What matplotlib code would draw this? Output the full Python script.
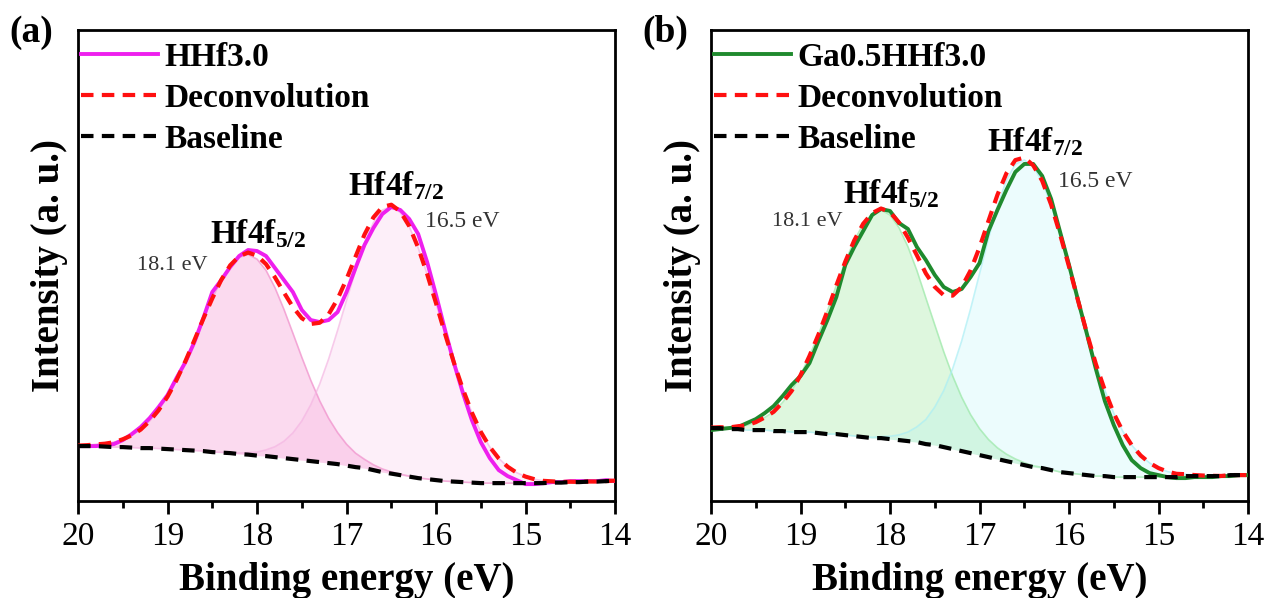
import numpy as np
import matplotlib.pyplot as plt

plt.rcParams['font.family'] = ['Liberation Serif', 'DejaVu Serif']
plt.rcParams['mathtext.fontset'] = 'custom'
plt.rcParams['mathtext.rm'] = 'Liberation Serif'
plt.rcParams['mathtext.bf'] = 'Liberation Serif:bold'

# binding energy grid (eV), shared by both spectra
energy = np.round(np.arange(20.0, 13.95, -0.1), 1)

# Hf 4f region, HHf3.0
hhf_counts = [51, 51, 51, 52, 53, 57, 63, 70, 79, 90,
              102, 119, 135, 155, 179, 205, 217, 230, 241, 247,
              246, 241, 229, 217, 205, 187, 177, 175, 177, 185,
              205, 229, 252, 269, 283, 290, 287, 278, 263, 235,
              202, 167, 134, 104, 77, 55, 39, 27, 21, 17,
              13, 13, 14, 15, 15, 16, 16, 16, 16, 17, 16]
hhf_base = [51, 51, 51, 50.5, 50, 50, 49.5, 49, 49, 48.5,
            48, 47.5, 47, 46.5, 46, 45, 44.5, 44, 43, 42.5,
            41.5, 41, 40, 39, 38, 37, 36, 35, 34, 33,
            31.5, 30, 29, 27, 25, 23.5, 22, 20.5, 19, 18,
            17, 16, 15.5, 15, 14.5, 14, 14, 14, 14, 14,
            14, 14, 14, 14.5, 14.5, 15, 15, 15.5, 15.5, 16, 16.5]

# Hf 4f region, Ga0.5HHf3.0
ga_counts = [67, 68, 69, 70, 74, 78, 84, 91, 101, 112,
             121, 134, 156, 177, 200, 232, 250, 266, 282, 288,
             286, 274, 268, 250, 237, 222, 210, 205, 208, 220,
             234, 266, 287, 307, 325, 333, 333, 321, 298, 265,
             232, 197, 163, 128, 96, 72, 52, 37, 29, 24,
             22, 20, 19, 19, 20, 20, 20, 21, 21, 22, 22]
ga_base = [69, 69, 68, 68, 67, 67, 67, 66, 66, 65,
           65, 65, 64, 63, 63, 62, 61, 60, 59, 59,
           58, 57, 56, 55, 53, 52, 50, 48, 46, 44,
           42, 40, 38, 36, 34, 32, 30, 29, 27, 25,
           24, 23, 22, 21, 21, 20, 20, 20, 20, 20,
           20, 20, 20, 21, 21, 21, 21, 21, 22, 22, 22]

# fitted doublet: centre, height, sigma (high-BE side), sigma (low-BE side)
centres = [18.1, 16.5]
hhf_peaks = [(200, 0.55, 0.52), (267, 0.51, 0.55)]
ga_peaks = [(228, 0.54, 0.53), (305, 0.49, 0.565)]


def peak(x, c, h, s_hi, s_lo):
    s = np.where(x > c, s_hi, s_lo)
    return h * np.exp(-(x - c) ** 2 / (2 * s ** 2))


def panel(ax, counts, base, peaks, name, color, fills, edges, lab_pos):
    base = np.array(base)
    comps = [peak(energy, c, *p) for c, p in zip(centres, peaks)]
    for g, fc, ec, a in zip(comps, fills, edges, [0.25, 0.16]):
        ax.fill_between(energy, base, base + g, color=fc, alpha=a, lw=0, zorder=1)
        ax.plot(energy, base + g, color=ec, lw=1.2, alpha=0.7, zorder=2)
    fit = base + comps[0] + comps[1]
    ax.plot(energy, counts, color=color, lw=2.8, label=name, zorder=3)
    ax.plot(energy, fit, color='#ff1010', lw=3, ls=(0, (3, 2)),
            label='Deconvolution', zorder=4)
    ax.plot(energy, base, color='black', lw=3, ls=(0, (3, 2)),
            label='Baseline', zorder=4)

    (x1, y1), (xe1, ye1), (x2, y2), (xe2, ye2) = lab_pos
    ax.text(x1, y1, r'$\mathbf{Hf4f_{5/2}}$', fontsize=24)
    ax.text(xe1, ye1, '18.1 eV', fontsize=16, color='#333333', va='center')
    ax.text(x2, y2, r'$\mathbf{Hf4f_{7/2}}$', fontsize=24)
    ax.text(xe2, ye2, '16.5 eV', fontsize=17, color='#333333', va='center')

    ax.set_xlim(20, 14)
    ax.set_ylim(-4, 467)
    ax.set_xticks([20, 19, 18, 17, 16, 15, 14])
    ax.set_xticks(np.arange(14.5, 20, 1.0), minor=True)
    ax.set_yticks([])
    ax.tick_params(axis='x', which='major', direction='out', length=9,
                   width=2, labelsize=24, pad=6)
    ax.tick_params(axis='x', which='minor', direction='out', length=5, width=2)
    for sp in ax.spines.values():
        sp.set_linewidth(2)
    ax.set_xlabel('Binding energy (eV)', fontsize=28, fontweight='bold', labelpad=7)
    ax.set_ylabel('Intensity (a. u.)', fontsize=28, fontweight='bold', labelpad=7)
    leg = ax.legend(loc='upper left', bbox_to_anchor=(-0.01, 0.993), frameon=False,
                    fontsize=24, handlelength=2.3, handletextpad=0.2,
                    labelspacing=0.3, borderaxespad=0.0, borderpad=0.25)
    for t in leg.get_texts():
        t.set_fontweight('bold')


fig = plt.figure(figsize=(12.69, 5.98), dpi=100)
ax1 = fig.add_axes([0.0615, 0.162, 0.4232, 0.788])
ax2 = fig.add_axes([0.5603, 0.162, 0.4232, 0.788])

panel(ax1, hhf_counts, hhf_base, hhf_peaks, 'HHf3.0', '#ee1fee',
      ['#f06cc0', '#f5a0dc'], ['#f08fcb', '#f4b4e2'],
      [(18.53, 254), (19.34, 232), (16.98, 302), (16.12, 275)])
panel(ax2, ga_counts, ga_base, ga_peaks, 'Ga0.5HHf3.0', '#1f8a2e',
      ['#7ce07c', '#8eeff7'], ['#9be8a8', '#a8eef5'],
      [(18.53, 294), (19.32, 275), (16.92, 346), (16.12, 315)])

fig.text(0.007, 0.945, '(a)', fontsize=27, fontweight='bold', va='center')
fig.text(0.506, 0.945, '(b)', fontsize=27, fontweight='bold', va='center')

fig.savefig('out.png', dpi=100)
